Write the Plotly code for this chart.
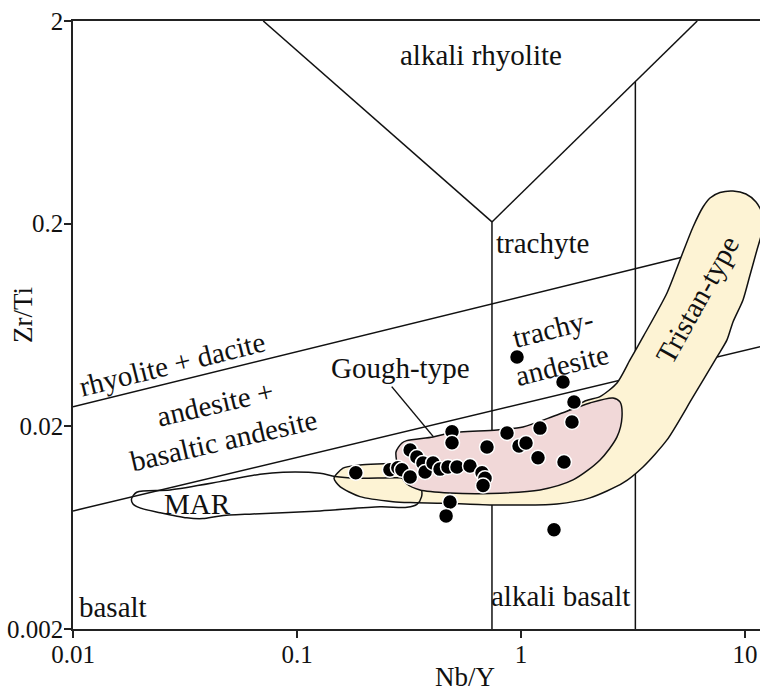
import numpy as np
import plotly.graph_objects as go

# ---------------- data (Nb/Y, Zr/Ti) ----------------
sample_nby = [0.183, 0.260, 0.282, 0.294, 0.320, 0.343, 0.365, 0.320, 0.373, 0.405,
              0.435, 0.472, 0.518, 0.492, 0.492, 0.592, 0.705, 0.670, 0.691, 0.677,
              0.482, 0.463, 0.866, 0.980, 1.053, 1.216, 1.191, 1.556, 1.689, 1.724,
              1.540, 0.960, 1.404]
sample_zrti = [0.0118, 0.0122, 0.0125, 0.0122, 0.0153, 0.0141, 0.0132, 0.01125, 0.0119, 0.0132,
               0.0123, 0.0126, 0.0126, 0.0188, 0.0166, 0.01275, 0.0158, 0.0118, 0.0111, 0.0102,
               0.00847, 0.00723, 0.01855, 0.0160, 0.01656, 0.0196, 0.0140, 0.01335, 0.0210, 0.0264,
               0.0331, 0.0440, 0.00617]

# field boundaries (Nb/Y, Zr/Ti)
alkrhy_left_x = [0.0707, 0.742]
alkrhy_left_y = [2.0, 0.204]
alkrhy_right_x = [0.742, 6.12]
alkrhy_right_y = [0.204, 2.0]
vert1_x = [0.742, 0.742]
vert1_y = [0.204, 0.002]
vert2_x = [3.24, 3.24]
vert2_y = [1.0, 0.002]
upper_x = [0.01, 5.68]
upper_y = [0.025, 0.1397]
lower_x = [0.01, 11.7]
lower_y = [0.00765, 0.0494]

# MAR field outline
mar_x = [0.01825, 0.01925, 0.0271, 0.0453, 0.0684, 0.0866, 0.1267, 0.1478, 0.1853, 0.313,
         0.340, 0.358, 0.3596, 0.343, 0.310, 0.2347, 0.1267, 0.0636, 0.0453, 0.0380,
         0.0322, 0.02445, 0.0199, 0.01853, 0.01825]
mar_y = [0.00877, 0.00946, 0.00971, 0.01067, 0.01161, 0.01188, 0.01174, 0.01132, 0.01109, 0.01109,
         0.01075, 0.00993, 0.00897, 0.00824, 0.00798, 0.00801, 0.00765, 0.00739, 0.00723, 0.00701,
         0.00707, 0.00750, 0.00792, 0.00828, 0.00877]

# Tristan-type field
tri_x = [0.1463, 0.1605, 0.1911, 0.2767, 0.482, 0.990, 1.931, 2.253, 2.683, 3.066,
         3.505, 4.485, 5.126, 5.861, 6.494, 6.979, 7.733, 8.839, 10.10, 11.20,
         12.03, 11.91, 11.31, 10.53, 9.797, 8.839, 8.311, 7.499, 5.861, 4.485,
         3.505, 2.853, 2.032, 1.448, 0.727, 0.4485, 0.320, 0.2683, 0.1911, 0.1556, 0.1463]
tri_y = [0.01109, 0.01243, 0.0129, 0.0132, 0.01445, 0.01714, 0.02668, 0.02803, 0.03274, 0.04252,
         0.05521, 0.0910, 0.1324, 0.1926, 0.2417, 0.2678, 0.2850, 0.2900, 0.2803, 0.2559,
         0.2207, 0.1820, 0.1484, 0.1117, 0.0841, 0.0655, 0.0534, 0.0440, 0.02793, 0.01714,
         0.01261, 0.01051, 0.00887, 0.00828, 0.00819, 0.00835, 0.00841, 0.00850, 0.00900, 0.01008, 0.01109]

# Gough-type field
gou_x = [0.2767, 0.2934, 0.3088, 0.405, 0.482, 0.7815, 1.021, 1.448, 2.032, 2.574,
         2.767, 2.824, 2.683, 2.253, 1.707, 1.216, 0.727, 0.482, 0.354, 0.3098,
         0.2854, 0.2796, 0.2767]
gou_y = [0.01495, 0.01651, 0.01700, 0.01773, 0.01855, 0.01919, 0.01986, 0.02276, 0.02609, 0.02761,
         0.02639, 0.02225, 0.01773, 0.01365, 0.01088, 0.00971, 0.00933, 0.00938, 0.00971, 0.01039,
         0.01191, 0.0132, 0.01495]

leader_x = [0.2648, 0.406]
leader_y = [0.0314, 0.01779]

x_tickvals = [0.01, 0.1, 1, 10]
x_ticktext = ["0.01", "0.1", "1", "10"]
y_tickvals = [0.002, 0.02, 0.2, 2]
y_ticktext = ["0.002", "0.02", "0.2", "2"]

# labels: (text, Nb/Y, Zr/Ti, angle)
labels = [
    ("alkali rhyolite", 0.663, 1.36, 0),
    ("trachyte", 1.241, 0.1606, 0),
    ("trachy-<br>andesite", 1.448, 0.0493, -14),
    ("rhyolite + dacite", 0.0277, 0.0406, -14),
    ("andesite +<br>basaltic andesite", 0.0453, 0.0210, -13),
    ("Gough-type", 0.2884, 0.0388, 0),
    ("MAR", 0.0358, 0.00828, 0),
    ("basalt", 0.0151, 0.00257, 0),
    ("alkali basalt", 1.508, 0.00291, 0),
    ("Tristan-type", 6.107, 0.0841, -61),
]

FONT = "Liberation Serif"
BLACK = "#111111"

fig = go.Figure()

def add_line(xs, ys, width=1.5):
    fig.add_trace(go.Scatter(x=xs, y=ys, mode="lines",
                             line=dict(color=BLACK, width=width),
                             hoverinfo="skip", showlegend=False))

for xs, ys in [(alkrhy_left_x, alkrhy_left_y), (alkrhy_right_x, alkrhy_right_y),
               (vert1_x, vert1_y), (vert2_x, vert2_y),
               (upper_x, upper_y), (lower_x, lower_y)]:
    add_line(xs, ys)

fig.add_trace(go.Scatter(x=tri_x, y=tri_y, mode="lines", fill="toself",
                         fillcolor="#FDF3D4",
                         line=dict(color=BLACK, width=1.5, shape="spline", smoothing=0.7),
                         hoverinfo="skip", showlegend=False))
fig.add_trace(go.Scatter(x=mar_x, y=mar_y, mode="lines",
                         line=dict(color=BLACK, width=1.5, shape="spline", smoothing=0.8),
                         hoverinfo="skip", showlegend=False))
fig.add_trace(go.Scatter(x=gou_x, y=gou_y, mode="lines", fill="toself",
                         fillcolor="#F1D8D8",
                         line=dict(color=BLACK, width=1.5, shape="spline", smoothing=0.8),
                         hoverinfo="skip", showlegend=False))
add_line(leader_x, leader_y)

fig.add_trace(go.Scatter(x=sample_nby, y=sample_zrti, mode="markers",
                         marker=dict(color="black", size=15,
                                     line=dict(color="white", width=1.5)),
                         hoverinfo="skip", showlegend=False))

for text, lx, ly, ang in labels:
    fig.add_annotation(x=np.log10(lx), y=np.log10(ly), xref="x", yref="y",
                       text=text, showarrow=False, textangle=ang,
                       xanchor="center", yanchor="middle",
                       font=dict(family=FONT, size=29, color=BLACK))

fig.add_annotation(x=np.log10(0.56), y=-0.079, xref="x", yref="paper",
                   text="Nb/Y", showarrow=False, xanchor="center", yanchor="middle",
                   font=dict(family=FONT, size=27, color=BLACK))
fig.add_annotation(x=-0.0728, y=0.5164, xref="paper", yref="paper",
                   text="Zr/Ti", showarrow=False, textangle=-90,
                   xanchor="center", yanchor="middle",
                   font=dict(family=FONT, size=27, color=BLACK))

axis_common = dict(type="log", showgrid=False, zeroline=False,
                   ticks="outside", ticklen=7, tickwidth=1.5, tickcolor="#222",
                   showline=True, linewidth=1.5, linecolor="#222",
                   tickfont=dict(family=FONT, size=25, color=BLACK))

fig.update_xaxes(range=[-2, 1.067], tickvals=x_tickvals, ticktext=x_ticktext,
                 mirror=True, ticklabelstandoff=-5, **axis_common)
fig.update_yaxes(range=[np.log10(0.002), np.log10(2)], tickvals=y_tickvals,
                 ticktext=y_ticktext, ticklabelstandoff=-4, **axis_common)

fig.update_layout(width=760, height=691,
                  margin=dict(l=73, r=0, t=21, b=62),
                  paper_bgcolor="white", plot_bgcolor="white",
                  showlegend=False)

fig.write_html("out.html")
